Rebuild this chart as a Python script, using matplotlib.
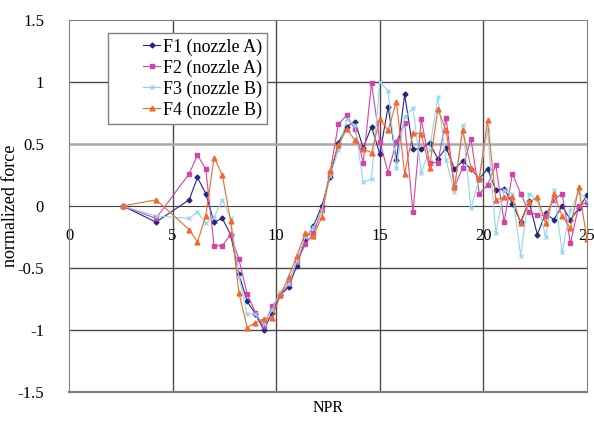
import matplotlib
matplotlib.use("Agg")
import matplotlib.pyplot as plt
from matplotlib.legend_handler import HandlerLine2D

plt.rcParams['font.family'] = ['Liberation Serif', 'DejaVu Serif']
plt.rcParams['axes.unicode_minus'] = False

# NPR sample points (shared by all four runs)
npr = [2.6, 4.2, 5.8, 6.2, 6.6, 7.0, 7.4, 7.8, 8.2, 8.6,
       9.0, 9.4, 9.8, 10.2, 10.6, 11.0, 11.4, 11.8, 12.2, 12.6,
       13.0, 13.4, 13.8, 14.2, 14.6, 15.0, 15.4, 15.8, 16.2, 16.6,
       17.0, 17.4, 17.8, 18.2, 18.6, 19.0, 19.4, 19.8, 20.2, 20.6,
       21.0, 21.4, 21.8, 22.2, 22.6, 23.0, 23.4, 23.8, 24.2, 24.6, 25.0]

f1 = [0.0, -0.13, 0.05, 0.23, 0.10, -0.13, -0.10, -0.23, -0.55, -0.77,
      -0.87, -1.00, -0.86, -0.72, -0.65, -0.48, -0.27, -0.16, 0.0, 0.23,
      0.51, 0.64, 0.68, 0.47, 0.64, 0.42, 0.80, 0.37, 0.90, 0.46,
      0.46, 0.51, 0.38, 0.47, 0.30, 0.36, 0.30, 0.22, 0.30, 0.13,
      0.14, 0.02, -0.13, 0.04, -0.23, -0.06, -0.11, 0.0, -0.11, -0.02, 0.09]

f2 = [0.0, -0.10, 0.26, 0.41, 0.30, -0.32, -0.32, -0.23, -0.43, -0.71,
      -0.86, -0.97, -0.81, -0.72, -0.62, -0.45, -0.31, -0.22, -0.03, 0.27,
      0.66, 0.73, 0.62, 0.35, 0.99, 0.52, 0.27, 0.52, 0.67, -0.05,
      0.70, 0.35, 0.35, 0.71, 0.15, 0.31, 0.54, 0.10, 0.17, 0.33,
      -0.13, 0.26, 0.10, -0.05, -0.07, -0.08, 0.05, 0.10, -0.30, 0.0, 0.03]

f3 = [0.0, -0.08, -0.10, -0.05, -0.14, -0.09, 0.05, -0.10, -0.57, -0.87,
      -0.87, -0.95, -0.84, -0.69, -0.63, -0.44, -0.25, -0.17, -0.04, 0.24,
      0.45, 0.70, 0.65, 0.19, 0.22, 1.00, 0.93, 0.31, 0.72, 0.79,
      0.27, 0.45, 0.88, 0.37, 0.11, 0.65, -0.02, 0.22, 0.61, -0.22,
      0.13, 0.10, -0.40, 0.10, 0.05, -0.25, 0.13, -0.37, -0.03, 0.11, 0.05]

f4 = [0.0, 0.05, -0.19, -0.29, -0.08, 0.39, 0.25, -0.12, -0.70, -0.98,
      -0.94, -0.91, -0.90, -0.72, -0.57, -0.40, -0.22, -0.24, -0.09, 0.28,
      0.49, 0.62, 0.53, 0.46, 0.43, 0.70, 0.61, 0.84, 0.26, 0.59,
      0.58, 0.31, 0.78, 0.61, 0.15, 0.61, 0.31, 0.22, 0.69, 0.05,
      0.07, 0.07, -0.14, 0.03, 0.07, -0.14, 0.10, -0.08, -0.18, 0.15, -0.27]

labels = ["F1 (nozzle A)", "F2 (nozzle A)", "F3 (nozzle B)", "F4 (nozzle B)"]
xticks = [0, 5, 10, 15, 20, 25]
yticks = [-1.5, -1, -0.5, 0, 0.5, 1, 1.5]

fig = plt.figure(figsize=(5.94, 4.26), dpi=100)
ax = fig.add_axes([69 / 594, 1 - 392 / 426, 518 / 594, 372 / 426])

# grid lines, Excel style
for xv in xticks[1:-1]:
    ax.axvline(xv, color='#4a4a4a', lw=1.0, zorder=1)
for yv in yticks[1:-1]:
    if yv == 0:
        continue
    if yv == 0.5:
        ax.axhline(yv, color='#a8a8a8', lw=1.8, zorder=1)
    else:
        ax.axhline(yv, color='#4a4a4a', lw=1.0, zorder=1)

ax.plot(npr, f1, color='#262680', lw=0.8, marker='D', ms=2.5, label=labels[0], zorder=3)
ax.plot(npr, f2, color='#d444a6', lw=0.8, marker='s', ms=3.5, label=labels[1], zorder=3)
ax.plot(npr, f3, color='#8ed6f0', lw=0.8, marker='x', ms=3.5, mew=0.9, label=labels[2], zorder=3)
ax.plot(npr, f4, color='#f5682a', lw=0.8, marker='^', ms=3.5, label=labels[3], zorder=3)

ax.set_xlim(0, 25)
ax.set_ylim(-1.5, 1.5)
ax.set_xticks(xticks)
ax.set_yticks(yticks)
ax.set_xticklabels([str(v) for v in xticks])
ax.set_yticklabels(['%g' % v for v in yticks])

ax.spines['bottom'].set_position(('data', 0))
ax.spines['bottom'].set_color('#404040')
for s in ['left', 'right', 'top']:
    ax.spines[s].set_color('#808080')
ax.axhline(-1.5, color='#808080', lw=1.6, clip_on=False, zorder=2)

ax.tick_params(axis='x', length=0, pad=16, labelsize=12)
ax.tick_params(axis='y', length=0, pad=18, labelsize=12)

ax.set_xlabel('NPR', fontsize=11.5)
ax.xaxis.set_label_coords(0.5, -0.022)
ax.set_ylabel('normalized force', fontsize=13)
ax.yaxis.set_label_coords(-0.096, 0.5)

hmap = {ln: HandlerLine2D(xpad=1.65) for ln in ax.get_lines() if ln.get_label() in labels}
leg = ax.legend(loc='upper left', bbox_to_anchor=(0.075, 0.965), borderaxespad=0,
                fontsize=13, handlelength=2.6, handletextpad=0.15, borderpad=0.3,
                labelspacing=0.2, fancybox=False, framealpha=1, edgecolor='#808080',
                handler_map=hmap)
leg.get_frame().set_linewidth(1.0)

fig.savefig('out.png', dpi=100)
